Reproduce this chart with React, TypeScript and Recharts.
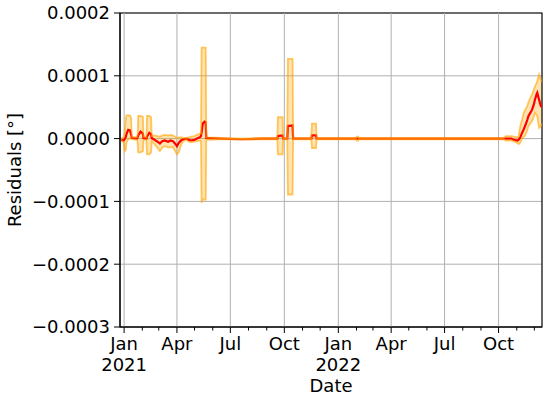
import React from "react";
import {
  ComposedChart,
  Area,
  Line,
  XAxis,
  YAxis,
  CartesianGrid,
  ReferenceLine,
  ReferenceArea,
} from "recharts";

// residuals per day
const dates = [
  "2020-12-27", "2020-12-31", "2021-01-02", "2021-01-04", "2021-01-05", "2021-01-08",
  "2021-01-11", "2021-01-13", "2021-01-14", "2021-01-23", "2021-01-24", "2021-01-25",
  "2021-01-29", "2021-02-02", "2021-02-03", "2021-02-08", "2021-02-09", "2021-02-13",
  "2021-02-16", "2021-02-17", "2021-02-22", "2021-02-27", "2021-03-03", "2021-03-07",
  "2021-03-11", "2021-03-17", "2021-03-21", "2021-03-25", "2021-03-29", "2021-04-01",
  "2021-04-04", "2021-04-08", "2021-04-12", "2021-04-17", "2021-04-21", "2021-04-25",
  "2021-05-01", "2021-05-05", "2021-05-10", "2021-05-12", "2021-05-13", "2021-05-15",
  "2021-05-18", "2021-05-20", "2021-05-21", "2021-06-15", "2021-07-20", "2021-08-25",
  "2021-09-19", "2021-09-20", "2021-09-28", "2021-09-29", "2021-10-06", "2021-10-07",
  "2021-10-15", "2021-10-16", "2021-11-16", "2021-11-17", "2021-11-24", "2021-11-25",
  "2022-01-31", "2022-02-01", "2022-02-04", "2022-02-05", "2022-06-01", "2022-10-10",
  "2022-10-13", "2022-10-23", "2022-10-27", "2022-11-02", "2022-11-04", "2022-11-07",
  "2022-11-10", "2022-11-13", "2022-11-16", "2022-11-19", "2022-11-21", "2022-11-24",
  "2022-11-27", "2022-11-30", "2022-12-02", "2022-12-05", "2022-12-06", "2022-12-09",
  "2022-12-12", "2022-12-14",
];

const meanRes = [
  -2e-6, -3e-6, -1e-6, 3e-6, 7e-6, 14e-6,
  13e-6, 6e-6, 1e-6, 0, 2e-6, 5e-6,
  11e-6, 8e-6, 1e-6, 0, 3e-6, 9e-6,
  7e-6, 1e-6, -2e-6, -5e-6, -8e-6, -4e-6,
  -3e-6, -5e-6, -3e-6, -4e-6, -8e-6, -12e-6,
  -7e-6, -3e-6, -1e-6, 0, -2e-6, -3e-6,
  -2e-6, 0, 2e-6, 4e-6, 10e-6, 24e-6,
  27e-6, 26e-6, 1e-6, 0, -1e-6, 0,
  0, 4e-6, 5e-6, 0, 0, 20e-6,
  21e-6, 0, 0, 5e-6, 5e-6, 0,
  0, 0, 0, 0, 0, 0,
  0, 0, -2e-6, -3e-6, -2e-6, 2e-6,
  9e-6, 15e-6, 22e-6, 30e-6, 36e-6, 41e-6,
  46e-6, 54e-6, 62e-6, 71e-6, 73e-6, 62e-6,
  52e-6, 50e-6,
];

const lowRes = [
  -3e-6, -5e-6, -20e-6, -18e-6, -6e-6, -1e-6,
  0, 0, -1e-6, -2e-6, -6e-6, -22e-6,
  -22e-6, -20e-6, -2e-6, -2e-6, -25e-6, -25e-6,
  -22e-6, -4e-6, -9e-6, -15e-6, -20e-6, -14e-6,
  -12e-6, -14e-6, -14e-6, -13e-6, -20e-6, -25e-6,
  -22e-6, -10e-6, -4e-6, -2e-6, -5e-6, -6e-6,
  -5e-6, -4e-6, -3e-6, -4e-6, -102e-6, -97e-6,
  -97e-6, -97e-6, -2e-6, -1e-6, -1e-6, -1e-6,
  -1e-6, -25e-6, -25e-6, -1e-6, -1e-6, -89e-6,
  -89e-6, -1e-6, -1e-6, -15e-6, -15e-6, -1e-6,
  -1e-6, -3e-6, -3e-6, -1e-6, -1e-6, -1e-6,
  -3e-6, -3e-6, -4e-6, -7e-6, -9e-6, -6e-6,
  0, 3e-6, 6e-6, 14e-6, 20e-6, 24e-6,
  28e-6, 35e-6, 41e-6, 38e-6, 36e-6, 17e-6,
  20e-6, 24e-6,
];

const highRes = [
  0, 2e-6, 8e-6, 33e-6, 37e-6, 37e-6,
  37e-6, 33e-6, 3e-6, 2e-6, 5e-6, 36e-6,
  36e-6, 35e-6, 3e-6, 2e-6, 36e-6, 36e-6,
  34e-6, 4e-6, 5e-6, 4e-6, 3e-6, 5e-6,
  6e-6, 5e-6, 6e-6, 5e-6, 3e-6, 1e-6,
  2e-6, 2e-6, 1e-6, 1e-6, 2e-6, 3e-6,
  4e-6, 6e-6, 8e-6, 8e-6, 145e-6, 145e-6,
  145e-6, 145e-6, 2e-6, 1e-6, 0, 1e-6,
  1e-6, 34e-6, 34e-6, 1e-6, 1e-6, 127e-6,
  127e-6, 1e-6, 1e-6, 24e-6, 24e-6, 1e-6,
  1e-6, 3e-6, 3e-6, 1e-6, 1e-6, 1e-6,
  4e-6, 4e-6, 3e-6, 2e-6, 3e-6, 20e-6,
  30e-6, 41e-6, 47e-6, 52e-6, 58e-6, 65e-6,
  70e-6, 78e-6, 83e-6, 89e-6, 92e-6, 102e-6,
  94e-6, 90e-6,
];

const monthTicks = [
  "2021-01-01", "2021-02-01", "2021-03-01", "2021-04-01", "2021-05-01", "2021-06-01",
  "2021-07-01", "2021-08-01", "2021-09-01", "2021-10-01", "2021-11-01", "2021-12-01",
  "2022-01-01", "2022-02-01", "2022-03-01", "2022-04-01", "2022-05-01", "2022-06-01",
  "2022-07-01", "2022-08-01", "2022-09-01", "2022-10-01", "2022-11-01", "2022-12-01",
];
const majorMonthLabels: Record<number, string> = { 0: "Jan", 3: "Apr", 6: "Jul", 9: "Oct" };
const yTicks = [-0.0003, -0.0002, -0.0001, 0, 0.0001, 0.0002];
const xStart = "2020-12-25";
const xEnd = "2022-12-14";

const toTime = (d: string) => Date.parse(d + "T00:00:00Z");

const data = dates.map((d, i) => ({
  t: toTime(d),
  mean: meanRes[i],
  lo: lowRes[i],
  hi: highRes[i],
}));

const FONT = "DejaVu Sans";
const FS = 18;

const DateTick = ({ x, y, payload }: any) => {
  const d = new Date(payload.value);
  const m = d.getUTCMonth();
  const label = majorMonthLabels[m];
  return (
    <g>
      <line x1={x} x2={x} y1={y} y2={y + (label ? 6 : 3.5)} stroke="#000" strokeWidth={1} />
      {label && (
        <text x={x} y={y + 23} textAnchor="middle" fontSize={FS} fontFamily={FONT} fill="#000">
          {label}
        </text>
      )}
      {m === 0 && (
        <text x={x} y={y + 44} textAnchor="middle" fontSize={FS} fontFamily={FONT} fill="#000">
          {d.getUTCFullYear()}
        </text>
      )}
    </g>
  );
};

const fmtY = (v: number) => {
  const s = Math.abs(v).toFixed(4);
  return v < -1e-12 ? "\u2212" + s : s;
};

export default function App() {
  const majors = monthTicks.filter((d) => majorMonthLabels[new Date(toTime(d)).getUTCMonth()]);
  return (
    <div style={{ position: "fixed", left: 0, top: 0, width: 550, height: 401, background: "#fff" }}>
      <ComposedChart
        width={550}
        height={401}
        data={data}
        margin={{ top: 13, right: 8, bottom: 0, left: 0 }}
      >
        <CartesianGrid vertical={false} stroke="#b0b0b0" strokeWidth={1} />
        {majors.map((d) => (
          <ReferenceLine key={d} x={toTime(d)} stroke="#b0b0b0" strokeWidth={1} />
        ))}
        <XAxis
          dataKey="t"
          type="number"
          scale="time"
          domain={[toTime(xStart), toTime(xEnd)]}
          allowDataOverflow
          ticks={monthTicks.map(toTime)}
          interval={0}
          tick={<DateTick />}
          tickLine={false}
          tickSize={0}
          tickMargin={0}
          height={74}
          axisLine={{ stroke: "#000" }}
          label={{
            content: () => (
              <text x={331} y={392} textAnchor="middle" fontSize={FS} fontFamily={FONT} fill="#000">
                Date
              </text>
            ),
          }}
        />
        <YAxis
          type="number"
          domain={[-0.0003, 0.0002]}
          ticks={yTicks}
          tickFormatter={fmtY}
          width={120}
          tickSize={6}
          tickMargin={4}
          tick={{ fontSize: FS, fontFamily: FONT, fill: "#000" }}
          tickLine={{ stroke: "#000" }}
          axisLine={{ stroke: "#000" }}
          label={{
            content: () => (
              <text
                x={21}
                y={170}
                transform="rotate(-90, 21, 170)"
                textAnchor="middle"
                fontSize={FS}
                fontFamily={FONT}
                fill="#000"
              >
                Residuals [°]
              </text>
            ),
          }}
        />
        <Area
          dataKey={(r: any) => [r.lo, r.hi]}
          type="linear"
          stroke="none"
          fill="orange"
          fillOpacity={0.3}
          isAnimationActive={false}
        />
        <Line dataKey="mean" type="linear" stroke="#ff0000" strokeWidth={2.2} dot={false} isAnimationActive={false} />
        <Line dataKey="lo" type="linear" stroke="orange" strokeOpacity={0.6} strokeWidth={1.8} dot={false} isAnimationActive={false} />
        <Line dataKey="hi" type="linear" stroke="orange" strokeOpacity={0.6} strokeWidth={1.8} dot={false} isAnimationActive={false} />
        <ReferenceArea
          x1={toTime(xStart)}
          x2={toTime(xEnd)}
          y1={-0.0003}
          y2={0.0002}
          fill="none"
          stroke="#000"
          strokeWidth={1.2}
        />
      </ComposedChart>
    </div>
  );
}
